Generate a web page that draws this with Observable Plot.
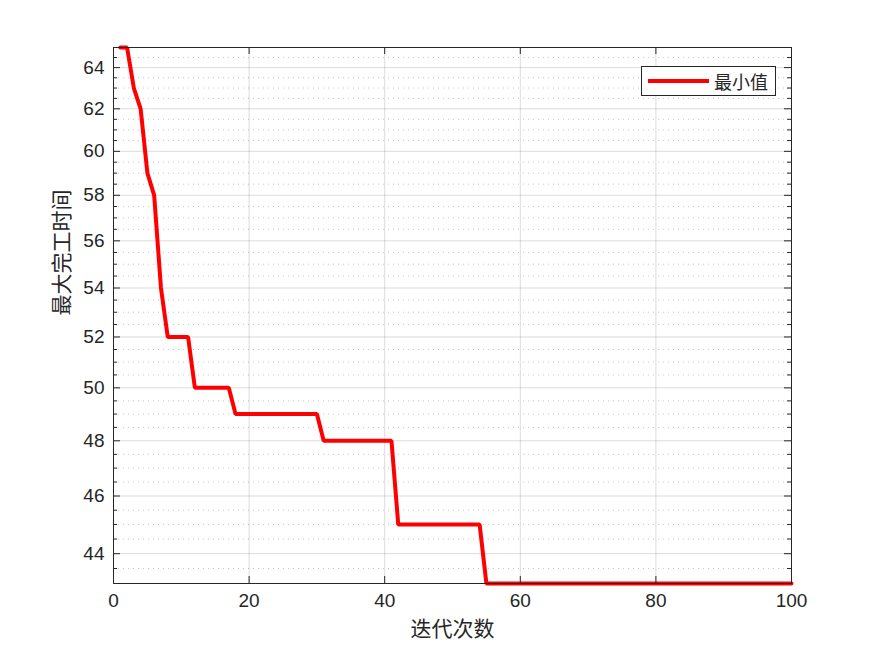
<!DOCTYPE html>
<html><head><meta charset="utf-8">
<script src="https://cdn.jsdelivr.net/npm/d3@7"></script>
<script src="https://cdn.jsdelivr.net/npm/@observablehq/plot@0.6"></script>
<style>
body{margin:0;background:#fff}
#wrap{position:relative;width:875px;height:656px;background:#fff}
#legend{position:absolute;left:641px;top:66px;width:133px;height:28px;border:1px solid #262626;background:#fff;font-family:"Noto Sans CJK SC",sans-serif;font-size:18px;color:#262626}
#legend .sw{position:absolute;left:6px;top:12px;width:61px;height:4px;background:#ff0000}
#legend .lb{position:absolute;left:72px;top:1px;line-height:26px}
</style></head><body><div id="wrap"></div>
<script>
// Data (step points of the convergence curve)
const stepIter = [1, 2, 3, 4, 5, 6, 7, 8, 11, 12, 17, 18, 30, 31, 41, 42, 54, 55, 100];
const stepVal  = [65, 65, 63, 62, 59, 58, 54, 52, 52, 50, 50, 49, 49, 48, 48, 45, 45, 43, 43];
const xTicks = [0, 20, 40, 60, 80, 100];
const yTicks = [44, 46, 48, 50, 52, 54, 56, 58, 60, 62, 64];
const yMinor = [43, 43.5, 44.5, 45, 45.5, 46.5, 47, 47.5, 48.5, 49, 49.5, 50.5, 51, 51.5,
                52.5, 53, 53.5, 54.5, 55, 55.5, 56.5, 57, 57.5, 58.5, 59, 59.5, 60.5, 61,
                61.5, 62.5, 63, 63.5, 64.5, 65];
const seriesName = "最小值";
const xLabel = "迭代次数";
const yLabel = "最大完工时间";

const data = stepIter.map((x, i) => ({x, y: stepVal[i]}));
const W = 875, H = 656, mL = 113, mR = 84, mT = 47, mB = 73;
const plotW = W - mL - mR, plotH = H - mT - mB;
const cjk = "'Noto Sans CJK SC', sans-serif";

const chart = Plot.plot({
  width: W, height: H,
  marginLeft: mL, marginRight: mR, marginTop: mT, marginBottom: mB,
  style: {fontFamily: "'Liberation Sans', Arial, sans-serif", fontSize: "19px", background: "#fff", color: "#262626"},
  x: {domain: [0, 100], label: null},
  y: {type: "log", domain: [43, 65], label: null},
  marks: [
    Plot.ruleY(yMinor, {stroke: "#000", strokeOpacity: 0.22, strokeDasharray: "1,4"}),
    Plot.ruleY(yTicks, {stroke: "#000", strokeOpacity: 0.14}),
    Plot.ruleX(xTicks, {stroke: "#000", strokeOpacity: 0.14}),
    Plot.line(data, {x: "x", y: "y", stroke: "#ff0000", strokeWidth: 4, strokeLinejoin: "miter"}),
    // inward tick marks (MATLAB style, box on)
    Plot.tickY(yTicks, {stroke: "#262626", insetRight: plotW - 7}),
    Plot.tickY(yTicks, {stroke: "#262626", insetLeft: plotW - 7}),
    Plot.tickY(yMinor, {stroke: "#262626", insetRight: plotW - 4}),
    Plot.tickY(yMinor, {stroke: "#262626", insetLeft: plotW - 4}),
    Plot.tickX(xTicks, {stroke: "#262626", insetTop: plotH - 7}),
    Plot.tickX(xTicks, {stroke: "#262626", insetBottom: plotH - 7}),
    Plot.frame({stroke: "#262626"}),
    Plot.axisX({ticks: xTicks, tickSize: 0, tickPadding: 10, label: null, fontSize: 19}),
    Plot.axisY({ticks: yTicks, tickSize: 0, tickPadding: 9, label: null, fontSize: 19, tickFormat: d3.format("d")}),
    Plot.text([xLabel], {frameAnchor: "bottom", dy: 52, fontSize: 21, fontFamily: cjk, fill: "#262626"}),
    Plot.text([yLabel], {frameAnchor: "left", dx: -51, rotate: -90, fontSize: 21, fontFamily: cjk, fill: "#262626"})
  ]
});

const wrap = document.getElementById("wrap");
wrap.appendChild(chart);
const lg = document.createElement("div");
lg.id = "legend";
lg.innerHTML = `<div class="sw"></div><div class="lb"></div>`;
lg.querySelector(".lb").textContent = seriesName;
wrap.appendChild(lg);
</script>
</body></html>
